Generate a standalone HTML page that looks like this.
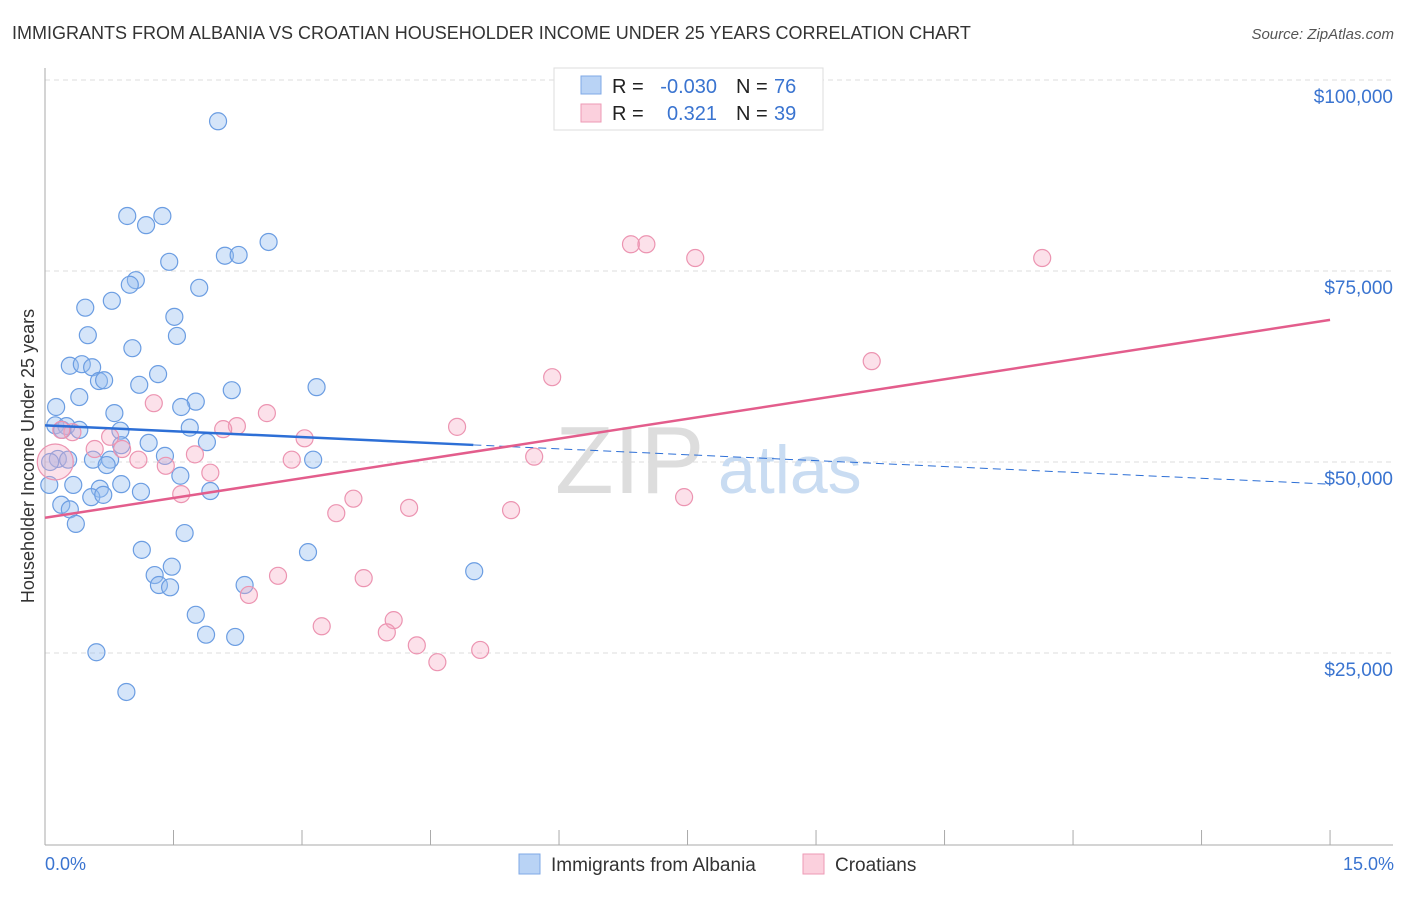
<!DOCTYPE html>
<html><head><meta charset="utf-8"><style>
body{margin:0;background:#fff;font-family:"Liberation Sans",sans-serif}
svg text{font-family:"Liberation Sans",sans-serif}
</style></head><body>
<svg width="1406" height="892" viewBox="0 0 1406 892">
<text x="12" y="39" font-size="18" fill="#333">IMMIGRANTS FROM ALBANIA VS CROATIAN HOUSEHOLDER INCOME UNDER 25 YEARS CORRELATION CHART</text>
<text x="1394" y="39" font-size="15" fill="#555" text-anchor="end" font-style="italic">Source: ZipAtlas.com</text>
<g id="grid"></g>
<text x="555" y="493" font-size="96" fill="#ddd" font-family="Liberation Serif">ZIP</text>
<text x="718" y="493" font-size="68" fill="#c9dcf2">atlas</text>
<g id="marks"></g>
<text x="34" y="456" font-size="18" fill="#333" text-anchor="middle" transform="rotate(-90 34 456)">Householder Income Under 25 years</text>
<text x="45" y="870" font-size="18" fill="#3a74d0">0.0%</text>
<text x="1394" y="870" font-size="18" fill="#3a74d0" text-anchor="end">15.0%</text>
<g>
<rect x="554" y="68" width="269" height="62" fill="#fff" stroke="#ddd"/>
<rect x="581" y="76" width="20" height="18" fill="#b9d3f5" stroke="#7fa8e6"/>
<rect x="581" y="104" width="20" height="18" fill="#fbd0dd" stroke="#ee9ab5"/>
<text x="612" y="93" font-size="20" fill="#222">R = </text><text x="717" y="93" font-size="20" fill="#3a74d0" text-anchor="end">-0.030</text>
<text x="736" y="93" font-size="20" fill="#222">N = </text><text x="774" y="93" font-size="20" fill="#3a74d0">76</text>
<text x="612" y="120" font-size="20" fill="#222">R = </text><text x="717" y="120" font-size="20" fill="#3a74d0" text-anchor="end">0.321</text>
<text x="736" y="120" font-size="20" fill="#222">N = </text><text x="774" y="120" font-size="20" fill="#3a74d0">39</text>
</g>
<g>
<rect x="519" y="854" width="21" height="20" fill="#b9d3f5" stroke="#7fa8e6"/>
<text x="551" y="871" font-size="19" fill="#333">Immigrants from Albania</text>
<rect x="803" y="854" width="21" height="20" fill="#fbd0dd" stroke="#ee9ab5"/>
<text x="835" y="871" font-size="19" fill="#333">Croatians</text>
</g>
</svg>
<script>
const blueX=[2.02,0.96,1.37,1.18,2.61,2.10,2.26,1.45,1.06,0.99,1.80,0.78,0.47,1.51,1.54,0.50,1.02,0.29,0.43,0.55,1.32,0.63,0.69,1.10,2.18,3.17,0.40,0.13,1.76,1.59,0.81,0.12,0.25,0.20,0.40,0.88,1.69,1.21,1.89,0.89,1.40,0.15,0.27,0.06,0.76,0.56,0.72,3.13,1.58,0.89,0.05,0.33,0.64,1.12,1.93,0.54,0.68,0.19,0.29,0.36,1.63,1.13,3.07,5.01,1.48,1.28,1.33,1.46,2.33,1.76,1.88,2.22,0.60,0.95];
const blueY=[94.6,82.2,82.2,81.0,78.8,77.0,77.1,76.2,73.8,73.2,72.8,71.1,70.2,69.0,66.5,66.6,64.9,62.6,62.8,62.4,61.5,60.6,60.7,60.1,59.4,59.8,58.5,57.2,57.9,57.2,56.4,54.8,54.7,54.2,54.2,54.1,54.5,52.5,52.6,52.2,50.8,50.4,50.3,50.0,50.3,50.3,49.6,50.3,48.2,47.1,47.0,47.0,46.5,46.1,46.2,45.4,45.7,44.4,43.8,41.9,40.7,38.5,38.2,35.7,36.3,35.2,33.9,33.6,33.9,30.0,27.4,27.1,25.1,19.9];
const pinkX=[6.84,7.02,7.59,11.64,9.65,5.92,1.27,2.59,2.24,4.81,2.08,0.32,0.19,0.76,3.03,0.90,0.58,1.75,1.09,2.88,5.71,1.41,1.93,0.12,1.59,3.60,7.46,4.25,3.40,5.44,2.72,3.72,2.38,4.07,3.23,3.99,4.34,5.08,4.58];
const pinkY=[78.5,78.5,76.7,76.7,63.2,61.1,57.7,56.4,54.7,54.6,54.3,53.9,54.2,53.3,53.1,51.7,51.7,51.0,50.3,50.3,50.7,49.5,48.6,50.0,45.8,45.2,45.4,44.0,43.3,43.7,35.1,34.8,32.6,29.3,28.5,27.7,26.0,25.4,23.8];
const yTicks=[25,50,75,100];
const yTickLabels=["$25,000","$50,000","$75,000","$100,000"];
const blueTrend=[54.8,47.1], blueSolidEnd=5.0;
const pinkTrend=[42.7,68.6];
const X=v=>45+v*85.67, Y=v=>844-v*7.64;
const NS="http://www.w3.org/2000/svg";
function mk(p,tag,a){const e=document.createElementNS(NS,tag);for(const k in a)e.setAttribute(k,a[k]);p.appendChild(e);return e;}
const grid=document.getElementById('grid'), marks=document.getElementById('marks');
yTicks.forEach((t,i)=>{
 const l=mk(grid,'line',{x1:45,x2:1393,y1:Y(t),y2:Y(t),stroke:'#ddd','stroke-dasharray':'5,4'});
 
 
 const tx=mk(grid,'text',{x:1393,y:Y(t)+23,'font-size':19,fill:'#3a74d0','text-anchor':'end'});
 tx.textContent=yTickLabels[i];
 
 
});
const ax=mk(grid,'line',{x1:45,x2:45,y1:68,y2:845,stroke:'#aaa'});


const bx=mk(grid,'line',{x1:45,x2:1393,y1:845,y2:845,stroke:'#aaa'});


for(let i=1;i<=10;i++){const t=mk(grid,'line',{x1:X(i*1.5),x2:X(i*1.5),y1:830,y2:845,stroke:'#aaa'});
 
 }
blueX.forEach((x,i)=>{const c=mk(marks,'circle',{cx:X(x),cy:Y(blueY[i]),r:8.5,fill:'rgba(150,190,240,0.4)',stroke:'#6b9de2','stroke-width':1.2});
 
 });
pinkX.forEach((x,i)=>{const c=mk(marks,'circle',{cx:X(x),cy:Y(pinkY[i]),r:i==23?18:8.5,fill:'rgba(245,170,195,0.35)',stroke:'#ec94b1','stroke-width':1.2});
 
 });
const by=x=>blueTrend[0]+(blueTrend[1]-blueTrend[0])*x/15;
const b1=mk(marks,'line',{x1:X(0),y1:Y(by(0)),x2:X(blueSolidEnd),y2:Y(by(blueSolidEnd)),stroke:'#2d6fd6','stroke-width':2.5});


const b2=mk(marks,'line',{x1:X(blueSolidEnd),y1:Y(by(blueSolidEnd)),x2:X(15),y2:Y(by(15)),stroke:'#2d6fd6','stroke-width':1,'stroke-dasharray':'8,5'});


const p1=mk(marks,'line',{x1:X(0),y1:Y(pinkTrend[0]),x2:X(15),y2:Y(pinkTrend[1]),stroke:'#e35d8c','stroke-width':2.5});


</script>
</body></html>
